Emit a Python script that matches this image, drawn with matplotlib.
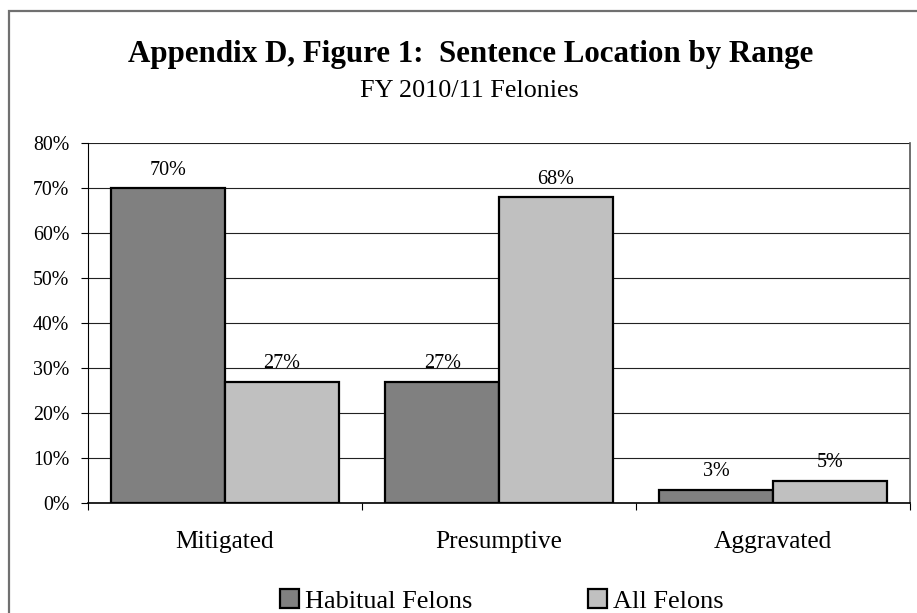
import matplotlib
matplotlib.use("Agg")
import matplotlib.pyplot as plt
from matplotlib.patches import Rectangle, Patch
from matplotlib.ticker import FixedLocator, PercentFormatter
import numpy as np

# chart data
categories = ["Mitigated", "Presumptive", "Aggravated"]
habitual = [70, 27, 3]
all_felons = [27, 68, 5]
series_names = ["Habitual Felons", "All Felons"]
y_ticks = [0, 10, 20, 30, 40, 50, 60, 70, 80]

plt.rcParams['font.family'] = ['Liberation Serif', 'DejaVu Serif']

fig = plt.figure(figsize=(9.17, 6.13), dpi=100)
ax = fig.add_axes([88 / 917, 1 - 503 / 613, (910 - 88) / 917, (503 - 143) / 613])

x = np.arange(len(categories))
w = 0.415
b1 = ax.bar(x - w / 2, habitual, w, color="#808080", edgecolor="black", linewidth=1.6, zorder=3)
b2 = ax.bar(x + w / 2, all_felons, w, color="#c0c0c0", edgecolor="black", linewidth=1.6, zorder=3)

for bars, vals in ((b1, habitual), (b2, all_felons)):
    for r, v in zip(bars, vals):
        ax.annotate(f"{v}%", (r.get_x() + r.get_width() / 2, v), xytext=(0, 6),
                    textcoords="offset points", ha="center", va="bottom", fontsize=14.5)

ax.set_xlim(-0.5, len(categories) - 0.5)
ax.set_ylim(0, 80)
ax.set_yticks(y_ticks)
ax.yaxis.set_major_formatter(PercentFormatter(decimals=0))
ax.grid(axis="y", color="#222222", linewidth=0.8, zorder=0)
ax.tick_params(axis="y", direction="out", length=5, width=0.8, labelsize=14.3, pad=8.5)

ax.set_xticks(x)
ax.set_xticklabels(categories, fontsize=18.3)
ax.xaxis.set_minor_locator(FixedLocator(np.arange(-0.5, len(categories), 1.0)))
ax.tick_params(axis="x", which="major", length=0, pad=20)
ax.tick_params(axis="x", which="minor", direction="out", length=5, width=0.8)

ax.spines["top"].set_visible(False)
ax.spines["left"].set_linewidth(0.8)
ax.spines["bottom"].set_linewidth(1.2)
ax.spines["right"].set_color("#555555")
ax.spines["right"].set_linewidth(1.2)

fig.text(0.5 * (130 + 812) / 917, 1 - 62 / 613, "Appendix D, Figure 1:  Sentence Location by Range",
         ha="center", va="baseline", fontsize=22.3, fontweight="bold")
fig.text(0.5 * (359 + 579) / 917, 1 - 97 / 613, "FY 2010/11 Felonies",
         ha="center", va="baseline", fontsize=18.8)

handles = [Patch(facecolor="#808080", edgecolor="black", linewidth=1.6),
           Patch(facecolor="#c0c0c0", edgecolor="black", linewidth=1.6)]
fig.legend(handles, series_names, loc="center", bbox_to_anchor=(502 / 917, 1 - 601 / 613),
           ncol=2, frameon=False, fontsize=18.9, handlelength=0.7, handleheight=0.7,
           handletextpad=0.25, columnspacing=4.4, borderpad=0)

# outer chart border
fig.patches.append(Rectangle((9 / 917, -0.1), 1.2, 1.1 - 11 / 613, transform=fig.transFigure,
                             fill=False, edgecolor="#707070", linewidth=1.6))

fig.savefig("out.png", dpi=100)
